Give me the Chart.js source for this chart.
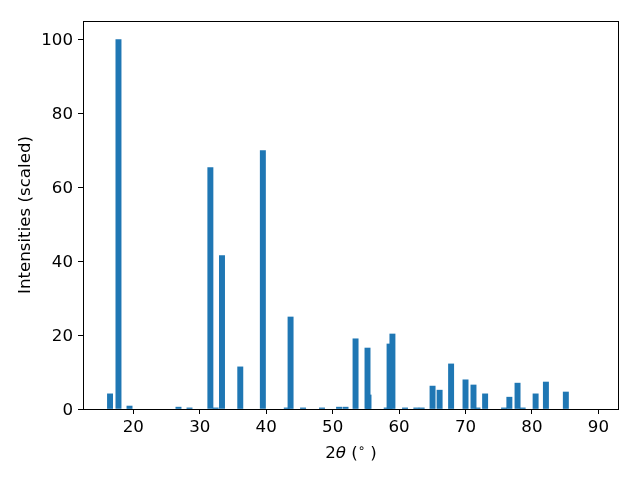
<!DOCTYPE html>
<html>
<head>
<meta charset="utf-8">
<script src="https://cdn.jsdelivr.net/npm/chart.js@4/dist/chart.umd.min.js"></script>
<style>html,body{margin:0;padding:0;background:#fff}</style>
</head>
<body>
<canvas id="chart" width="640" height="480"></canvas>
<script>
// peak positions (2theta, degrees) and scaled intensities
const twoTheta = [16.5, 17.77, 19.43, 26.8, 28.46, 31.6, 32.4, 33.35, 36.1, 39.5,
  43.1, 43.67, 45.55, 48.4, 50.97, 51.94, 53.45, 55.4, 55.25, 58.14,
  58.57, 59.0, 60.9, 62.6, 63.4, 65.04, 66.1, 67.83, 70.0, 71.2,
  71.8, 72.95, 75.8, 76.6, 77.83, 78.6, 80.55, 82.1, 85.1];
const intensity = [4.1, 100, 0.8, 0.5, 0.3, 65.3, 0.3, 41.5, 11.4, 69.9,
  0.3, 24.9, 0.3, 0.3, 0.5, 0.5, 19.0, 3.8, 16.5, 0.3,
  17.6, 20.3, 0.3, 0.3, 0.3, 6.2, 5.1, 12.2, 7.9, 6.5,
  0.3, 4.1, 0.3, 3.2, 7.0, 0.3, 4.1, 7.3, 4.6];
const xTicks = [20, 30, 40, 50, 60, 70, 80, 90];
const yTicks = [0, 20, 40, 60, 80, 100];

const FONT = 'DejaVu Sans';
const FS = 16.67;

const frame = {
  id: 'frame',
  afterDatasetsDraw(chart){
    const {ctx, chartArea: a} = chart;
    ctx.save();
    ctx.strokeStyle = '#000';
    ctx.lineWidth = 1;
    ctx.strokeRect(a.left + 0.5, a.top + 0.5, a.right - a.left - 1, a.bottom - a.top);
    ctx.restore();
  }
};

// x label with italic theta and superscript degree ring
const xLabel = {
  id: 'xLabel',
  afterDraw(chart){
    const {ctx, chartArea: a} = chart;
    const parts = [
      {t: '2', f: `${FS}px "${FONT}"`, dy: 0},
      {t: 'θ', f: `oblique ${FS}px "${FONT}"`, dy: 0},
      {t: ' (', f: `${FS}px "${FONT}"`, dy: 0},
      {t: '∘', f: `${FS*0.7}px "${FONT}"`, dy: -6},
      {t: ' )', f: `${FS}px "${FONT}"`, dy: 0}
    ];
    ctx.save();
    ctx.fillStyle = '#000';
    ctx.textBaseline = 'alphabetic';
    let w = 0;
    parts.forEach(p => { ctx.font = p.f; p.w = ctx.measureText(p.t).width; w += p.w; });
    let x = (a.left + a.right) / 2 - w / 2;
    parts.forEach(p => { ctx.font = p.f; ctx.fillText(p.t, x, 458 + p.dy); x += p.w; });
    ctx.restore();
  }
};

new Chart(document.getElementById('chart'), {
  type: 'bar',
  data: {
    datasets: [{
      data: twoTheta.map((x, i) => ({x, y: intensity[i]})),
      backgroundColor: '#1f77b4',
      borderWidth: 0,
      barThickness: 5.3
    }]
  },
  options: {
    responsive: false,
    animation: false,
    devicePixelRatio: 1,
    layout: {padding: {top: 21, right: 21, left: 0, bottom: 0}},
    plugins: {legend: {display: false}, tooltip: {enabled: false}},
    scales: {
      x: {
        type: 'linear', min: 12.43, max: 93.1, offset: false,
        grid: {offset: false, drawOnChartArea: false, drawTicks: true, tickLength: 5, color: '#000'},
        border: {display: false},
        afterBuildTicks: s => { s.ticks = xTicks.map(v => ({value: v})); },
        afterFit: s => { s.height = 71; },
        ticks: {autoSkip: false, maxRotation: 0, padding: 4, color: '#000', font: {family: FONT, size: FS}}
      },
      y: {
        min: 0, max: 105,
        grid: {drawOnChartArea: false, drawTicks: true, tickLength: 5, color: '#000'},
        border: {display: false},
        afterBuildTicks: s => { s.ticks = yTicks.map(v => ({value: v})); },
        afterFit: s => { s.width = 83; },
        ticks: {padding: 5, labelOffset: 1.5, color: '#000', font: {family: FONT, size: FS}},
        title: {display: true, text: 'Intensities (scaled)', color: '#000',
          padding: {top: 16, bottom: 0}, font: {family: FONT, size: FS}}
      }
    }
  },
  plugins: [frame, xLabel]
});
</script>
</body>
</html>
